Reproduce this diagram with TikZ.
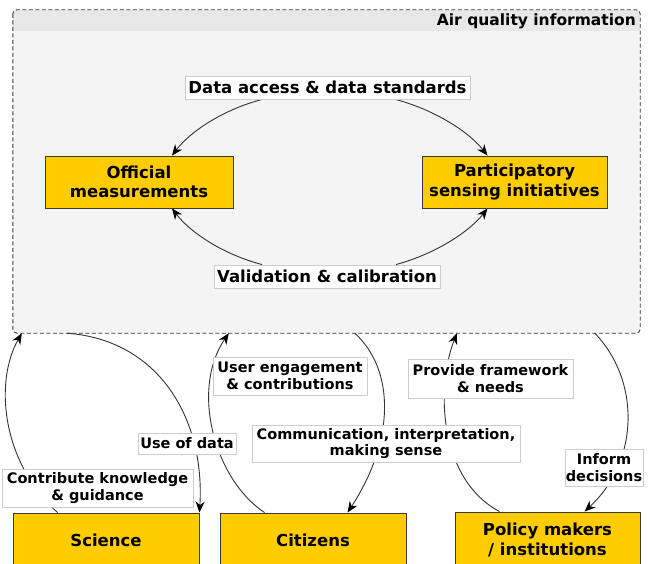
\documentclass[tikz,border=0pt]{standalone}
\usepackage{fontspec}
\setmainfont{DejaVu Sans}
\usetikzlibrary{arrows.meta,calc}
\definecolor{gold}{HTML}{FFCC00}
\definecolor{boxline}{HTML}{3A3A3A}
\definecolor{lblline}{HTML}{CCCCCC}
\definecolor{bgc}{HTML}{F4F4F4}
\definecolor{headc}{HTML}{E8E8E8}
\definecolor{linec}{HTML}{333333}
\newcommand\bfnt{\fontsize{16.5pt}{19.5pt}\selectfont\bfseries}
\newcommand\smfnt{\fontsize{14.5pt}{16.5pt}\selectfont\bfseries}
\newcommand\ttlfnt{\fontsize{15.5pt}{18pt}\selectfont\bfseries}
\pgfdeclarelayer{bg}
\pgfdeclarelayer{mid}
\pgfsetlayers{bg,mid,main}
\tikzset{
  box/.style={draw=boxline, fill=gold, line width=0.9pt, font=\bfnt, align=center, inner sep=0pt},
  lbl/.style={draw=lblline, fill=white, line width=0.9pt, font=\bfnt, align=center, inner sep=0pt},
  elbl/.style={lbl, font=\smfnt},
  conn/.style={draw=linec, line width=0.9pt, -{Stealth[length=11pt,width=9pt,inset=3.5pt,color=black]}},
}
\begin{document}
\begin{tikzpicture}[x=1pt,y=-1pt]
\useasboundingbox (0,0) rectangle (648,564);
% container
\begin{pgfonlayer}{bg}
\node[fill=bgc, rounded corners=4pt, minimum width=627pt, minimum height=323pt, inner sep=0pt] (aq) at (326.5,171.5) {};
\fill[headc, rounded corners=4pt] (aq.north west) rectangle ($(aq.north east)+(0,21)$);
\fill[headc] ($(aq.north west)+(0,10)$) rectangle ($(aq.north east)+(0,21)$);
\draw[boxline, line width=0.9pt, dash pattern=on 4pt off 2.5pt, rounded corners=4pt] (aq.north west) rectangle (aq.south east);
\end{pgfonlayer}
\node[anchor=base east, font=\ttlfnt, inner sep=0pt] (ttl) at (636,26) {Air quality information};

% main boxes
\node[box, minimum width=188pt, minimum height=52pt] (off) at (139,182) {Official\\measurements};
\node[box, minimum width=185pt, minimum height=52pt] (par) at (514.5,182) {Participatory\\sensing initiatives};
\node[box, minimum width=186pt, minimum height=54pt] (sci) at (106,540) {Science};
\node[box, minimum width=186pt, minimum height=54pt] (cit) at (313,540) {Citizens};
\node[box, minimum width=185pt, minimum height=56pt] (pol) at (547.5,540) {Policy makers\\/ institutions};

% labels
\node[lbl, minimum width=285pt, minimum height=23pt] (da) at (327.5,87.5) {Data access \& data standards};
\node[lbl, minimum width=226pt, minimum height=23pt] (val) at (327,276.5) {Validation \& calibration};
\node[elbl, minimum width=191pt, minimum height=38pt] (contr) at (97.5,488) {Contribute knowledge\\\& guidance};
\node[elbl, minimum width=98pt, minimum height=21pt] (use) at (187,443.5) {Use of data};
\node[elbl, minimum width=154pt, minimum height=38pt] (usr) at (290,376) {User engagement\\\& contributions};
\node[elbl, minimum width=268pt, minimum height=37pt] (com) at (386,443.5) {Communication, interpretation,\\making sense};
\node[elbl, minimum width=165pt, minimum height=39pt] (prov) at (490.5,378.5) {Provide framework\\\& needs};
\node[elbl, minimum width=78pt, minimum height=37pt] (inf) at (604,467.5) {Inform\\decisions};

% named points
\coordinate (daL) at ($(da.south)+(-65.5,0)$);
\coordinate (daR) at ($(da.south)+(68,0)$);
\coordinate (valL) at ($(val.north)+(-65,0)$);
\coordinate (valR) at ($(val.north)+(69,0)$);
\coordinate (offT) at ($(off.north)+(33,0)$);
\coordinate (offB) at ($(off.south)+(33,0)$);
\coordinate (parT) at ($(par.north)+(-27,0)$);
\coordinate (parB) at ($(par.south)+(-27,0)$);
\coordinate (c1) at ($(aq.south west)+(9,0)$);
\coordinate (c2) at ($(aq.south west)+(54,0)$);
\coordinate (c3) at ($(aq.south west)+(216,0)$);
\coordinate (c4) at ($(aq.south west)+(342,0)$);
\coordinate (c5) at ($(aq.south west)+(444,0)$);
\coordinate (c6) at ($(aq.south west)+(582,0)$);
\coordinate (sciA) at ($(sci.north west)+(45,0)$);
\coordinate (sciB) at (sci.north east);
\coordinate (citA) at ($(cit.north west)+(45,0)$);
\coordinate (citB) at ($(cit.north west)+(128,0)$);
\coordinate (polA) at ($(pol.north west)+(45,0)$);
\coordinate (polB) at ($(pol.north west)+(130,0)$);

% connectors
\begin{pgfonlayer}{mid}
\draw[conn] (daL) .. controls (222,110) and (190,132) .. (offT);
\draw[conn] (daR) .. controls (435,110) and (469,132) .. (parT);
\draw[conn] (valL) .. controls (222,254) and (190,232) .. (offB);
\draw[conn] (valR) .. controls (435,254) and (469,232) .. (parB);
\draw[conn] (sciA) .. controls (0,460) and (-5,380) .. (c1);
\draw[conn] (c2) .. controls (160,340) and (205,420) .. (sciB);
\draw[conn] (citA) .. controls (215,480) and (190,390) .. (c3);
\draw[conn] (c4) .. controls (395,370) and (395,440) .. (citB);
\draw[conn] (polA) .. controls (440,480) and (435,390) .. (c5);
\draw[conn] (c6) .. controls (640,380) and (640,460) .. (polB);
\end{pgfonlayer}
\end{tikzpicture}
\end{document}
